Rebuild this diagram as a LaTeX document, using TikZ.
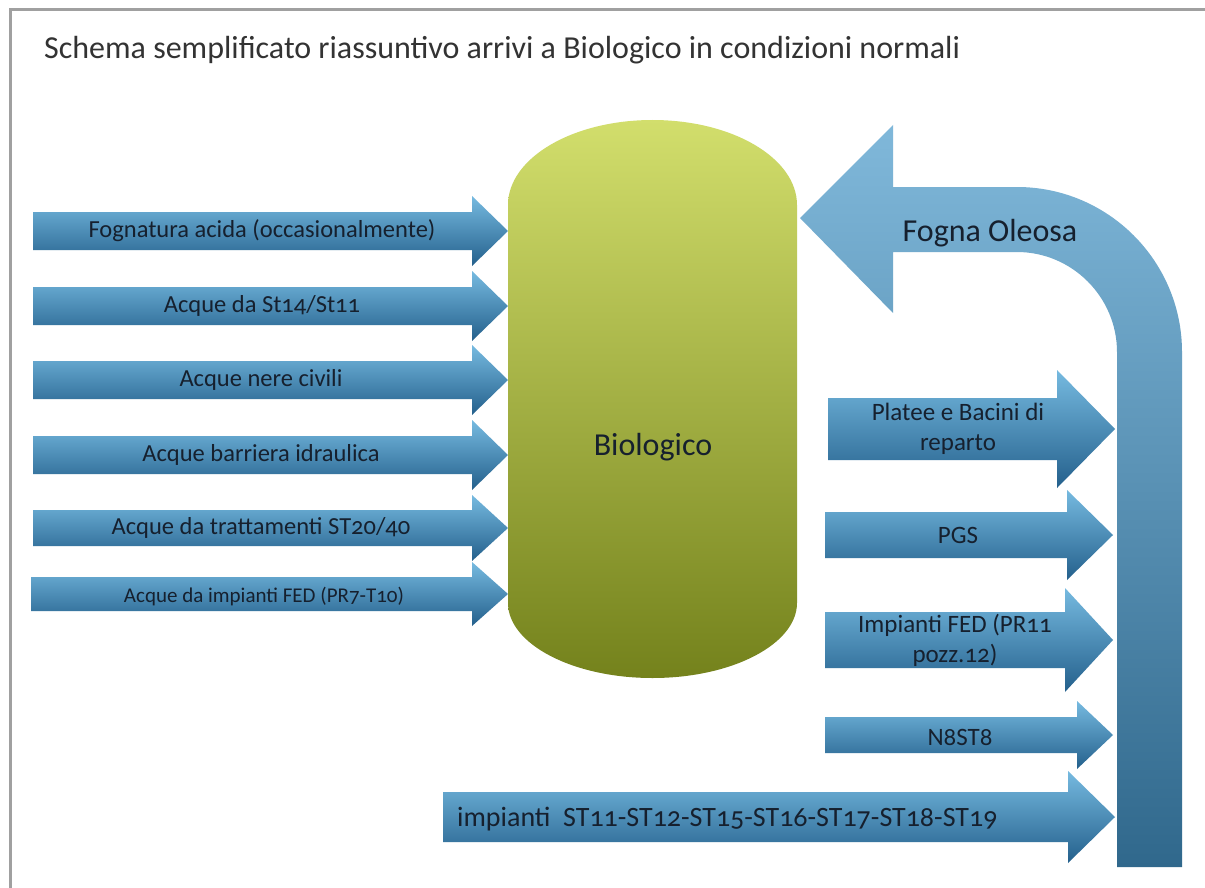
\documentclass[tikz,border=0pt]{standalone}
\usepackage{fontspec}
\setmainfont{Carlito}[Numbers=OldStyle]
\definecolor{arrtop}{RGB}{118,186,224}
\definecolor{arrbot}{RGB}{36,96,140}
\definecolor{oiltop}{RGB}{128,184,218}
\definecolor{oilbot}{RGB}{48,104,140}
\definecolor{cyltop}{RGB}{210,222,108}
\definecolor{cylmid}{RGB}{182,200,52}
\definecolor{cylbot}{RGB}{116,130,28}
\definecolor{labelc}{RGB}{22,32,46}
\definecolor{framec}{RGB}{160,160,160}
% horizontal block arrow: left x, centre y, head base x, tip x, body half height, head half height
\newcommand\flowarrow[6]{%
  \shade[top color=arrtop, bottom color=arrbot]
    (#1,#2-#5) -- (#3,#2-#5) -- (#3,#2-#6) -- (#4,#2) -- (#3,#2+#6)
    -- (#3,#2+#5) -- (#1,#2+#5) -- cycle;}
\begin{document}
\begin{tikzpicture}[x=1pt,y=-1pt,
  lbl/.style={text=labelc, inner sep=0pt, align=center,
    font=\fontsize{24.5}{30}\selectfont},
  rlbl/.style={lbl, font=\fontsize{25}{30}\selectfont}]
\useasboundingbox (0,0) rectangle (1205,888);
\fill[white] (0,0) rectangle (1205,888);
\draw[framec, line width=3pt] (10,888) -- (10,10) -- (1205,10);

% title
\node[anchor=west, text=black!80, inner sep=0pt,
  font=\fontsize{32}{36}\selectfont] (title) at (44,50)
  {Schema semplificato riassuntivo arrivi a Biologico in condizioni normali};

% biological tank
\shade[top color=cyltop, middle color=cylmid, bottom color=cylbot]
  (508,205) .. controls (508,158) and (572.7,120) .. (652.5,120)
  .. controls (732.3,120) and (797,158) .. (797,205)
  -- (797,603) .. controls (797,644) and (732.3,678) .. (652.5,678)
  .. controls (572.7,678) and (508,644) .. (508,603) -- cycle;
\node[text=labelc, font=\fontsize{32}{36}\selectfont] (bio) at (653,447) {Biologico};

% oily sewer return line
\shade[top color=oiltop, bottom color=oilbot]
  (800,218) -- (893,125) -- (893,187) -- (1017,187)
  .. controls (1108,187) and (1182,261) .. (1182,352)
  -- (1182,867) -- (1117,867) -- (1117,352)
  .. controls (1117,297) and (1072,252) .. (1017,252)
  -- (893,252) -- (893,313) -- cycle;
\node[text=labelc, font=\fontsize{32}{36}\selectfont] (oil) at (990,233) {Fogna Oleosa};

% inflows to the tank
\flowarrow{33}{231}{472}{508}{19}{35}
\flowarrow{33}{306}{472}{508}{19}{35}
\flowarrow{33}{380}{472}{508}{19}{35}
\flowarrow{33}{455}{472}{508}{19}{35}
\flowarrow{33}{528}{472}{508}{18}{33}
\flowarrow{31}{594}{472}{508}{17}{32}
\node[lbl] (in1) at (262,231) {Fognatura acida (occasionalmente)};
\node[lbl] (in2) at (262,306) {Acque da St14/St11};
\node[lbl] (in3) at (261,380) {Acque nere civili};
\node[lbl] (in4) at (261,455) {Acque barriera idraulica};
\node[lbl] (in5) at (261,528) {Acque da trattamenti ST20/40};
\node[lbl, font=\fontsize{21}{24}\selectfont] (in6) at (264,597) {Acque da impianti FED (PR7-T10)};

% inflows to the oily sewer
\flowarrow{828}{429}{1057}{1115}{31}{59}
\flowarrow{825}{535}{1067}{1113}{23}{45}
\flowarrow{825}{640}{1065}{1113}{28}{52}
\flowarrow{825}{735}{1077}{1113}{18}{34}
\flowarrow{443}{817}{1068}{1115}{25}{46}
\node[rlbl] (r1) at (958,429) {Platee e Bacini di\\reparto};
\node[rlbl] (r2) at (958,535) {PGS};
\node[rlbl] (r3) at (955,640) {Impianti FED (PR11\\pozz.12)};
\node[rlbl] (r4) at (960,737) {N8ST8};
\node[lbl, anchor=west, font=\fontsize{28}{32}\selectfont] (r5) at (457,819)
  {impianti\ \ ST11-ST12-ST15-ST16-ST17-ST18-ST19};
\end{tikzpicture}
\end{document}
